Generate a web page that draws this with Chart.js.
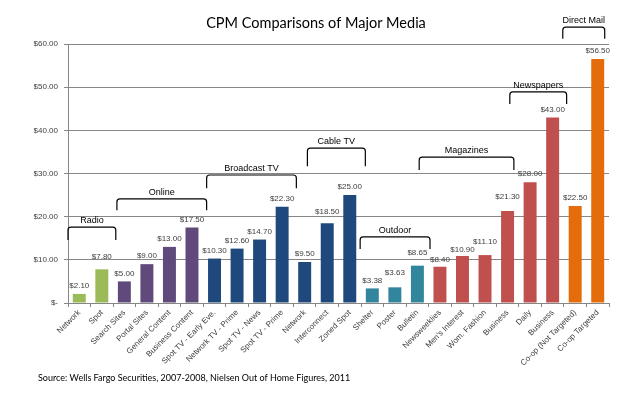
<!DOCTYPE html>
<html>
<head>
<meta charset="utf-8">
<script src="https://cdn.jsdelivr.net/npm/chart.js@4.4.1/dist/chart.umd.min.js"></script>
<style>
  html, body { margin: 0; padding: 0; background: #fff; }
  #wrap { width: 638px; height: 395px; }
</style>
</head>
<body>
<div id="wrap"><canvas id="chartCanvas" width="638" height="395"></canvas></div>
<script>
// chart data
const categories = ['Network', 'Spot', 'Search Sites', 'Portal Sites', 'General Content', 'Business Content',
    'Spot TV - Early Eve.', 'Network TV - Prime', 'Spot TV - News', 'Spot TV - Prime', 'Network', 'Interconnect',
    'Zoned Spot', 'Shelter', 'Poster', 'Bulletin', 'Newsweeklies', "Men's Interest", 'Wom. Fashion', 'Business',
    'Daily', 'Business', 'Co-op (Not Targeted)', 'Co-op Targeted'];
const cpmValues = [2.10, 7.80, 5.00, 9.00, 13.00, 17.50, 10.30, 12.60, 14.70, 22.30, 9.50, 18.50,
    25.00, 3.38, 3.63, 8.65, 8.40, 10.90, 11.10, 21.30, 28.00, 43.00, 22.50, 56.50];
const mediaGroup = ['Radio', 'Radio', 'Online', 'Online', 'Online', 'Online',
    'Broadcast TV', 'Broadcast TV', 'Broadcast TV', 'Broadcast TV', 'Cable TV', 'Cable TV',
    'Cable TV', 'Outdoor', 'Outdoor', 'Outdoor', 'Magazines', 'Magazines', 'Magazines', 'Magazines',
    'Newspapers', 'Newspapers', 'Direct Mail', 'Direct Mail'];
const yTicks = [0, 10, 20, 30, 40, 50, 60];

const groupColors = {
    'Radio': '#9BBB59',
    'Online': '#604A7B',
    'Broadcast TV': '#1F497D',
    'Cable TV': '#1F497D',
    'Outdoor': '#31859C',
    'Magazines': '#C0504D',
    'Newspapers': '#C0504D',
    'Direct Mail': '#E46C0A'
};

// bracket annotations: category index span and height in $
const brackets = [
    { label: 'Radio',        from: -0.5,  to: 1.62,  top: 17.6, bottom: 14.6 },
    { label: 'Online',       from: 1.67,  to: 5.65,  top: 24.1, bottom: 21.5 },
    { label: 'Broadcast TV', from: 5.65,  to: 9.63,  top: 29.65, bottom: 26.6 },
    { label: 'Cable TV',     from: 10.12, to: 12.69, top: 35.9, bottom: 31.7 },
    { label: 'Outdoor',      from: 12.46, to: 15.56, top: 15.3, bottom: 12.5 },
    { label: 'Magazines',    from: 15.08, to: 19.28, top: 33.8, bottom: 30.8 },
    { label: 'Newspapers',   from: 19.10, to: 21.62, top: 48.9, bottom: 46.1 },
    { label: 'Direct Mail',  from: 21.45, to: 23.31, top: 63.9, bottom: 61.2 }
];

// small manual lifts of value labels (px), as in the original slide
const labelLift = { 1: 5, 11: 3, 14: 7, 15: 5, 16: -1, 17: -2, 18: 5, 19: 6 };

const money = v => '$' + v.toFixed(2);

const extrasPlugin = {
    id: 'extras',
    afterDatasetsDraw(chart) {
        const ctx = chart.ctx;
        const x = chart.scales.x;
        const y = chart.scales.y;
        const meta = chart.getDatasetMeta(0);

        // value labels
        ctx.save();
        ctx.font = '8px "Liberation Sans", Arial, sans-serif';
        ctx.fillStyle = '#404040';
        ctx.textAlign = 'center';
        ctx.textBaseline = 'middle';
        meta.data.forEach((bar, i) => {
            ctx.fillText(money(cpmValues[i]), bar.x, bar.y - 8 - (labelLift[i] || 0));
        });

        // brackets
        const step = x.getPixelForValue(1) - x.getPixelForValue(0);
        const px = v => x.getPixelForValue(0) + v * step;
        ctx.strokeStyle = '#000';
        ctx.lineWidth = 1.2;
        ctx.font = '9px "Liberation Sans", Arial, sans-serif';
        ctx.fillStyle = '#000';
        ctx.textBaseline = 'bottom';
        brackets.forEach(b => {
            const x1 = px(b.from), x2 = px(b.to);
            const yt = y.getPixelForValue(b.top), yb = y.getPixelForValue(b.bottom);
            const r = 3;
            ctx.beginPath();
            ctx.moveTo(x1, yb);
            ctx.lineTo(x1, yt + r);
            ctx.arcTo(x1, yt, x1 + r, yt, r);
            ctx.lineTo(x2 - r, yt);
            ctx.arcTo(x2, yt, x2, yt + r, r);
            ctx.lineTo(x2, yb);
            ctx.stroke();
            ctx.fillText(b.label, (x1 + x2) / 2, yt - 2);
        });

        // title and source
        ctx.font = '14.5px Lato, "Open Sans", sans-serif';
        ctx.fillStyle = '#000';
        ctx.textBaseline = 'middle';
        ctx.fillText('CPM Comparisons of Major Media', 316, 23);
        ctx.font = '9px Lato, "Open Sans", sans-serif';
        ctx.textAlign = 'left';
        ctx.fillText('Source: Wells Fargo Securities, 2007-2008, Nielsen Out of Home Figures, 2011', 38, 378);
        ctx.restore();
    }
};

new Chart(document.getElementById('chartCanvas').getContext('2d'), {
    type: 'bar',
    data: {
        labels: categories,
        datasets: [{
            data: cpmValues,
            backgroundColor: mediaGroup.map(g => groupColors[g]),
            barPercentage: 0.575,
            categoryPercentage: 1.0
        }]
    },
    options: {
        responsive: false,
        animation: false,
        layout: { padding: { top: 44, right: 29, bottom: 22, left: 0 } },
        plugins: {
            legend: { display: false },
            title: { display: false },
            tooltip: { enabled: false }
        },
        scales: {
            x: {
                grid: { display: true, drawOnChartArea: false, tickLength: 4, color: '#868686' },
                border: { color: '#868686' },
                ticks: {
                    autoSkip: false,
                    minRotation: 45,
                    maxRotation: 45,
                    padding: 1,
                    color: '#404040',
                    font: { family: '"Liberation Sans", Arial, sans-serif', size: 8 }
                },
                afterFit(scale) { scale.height = 70; }
            },
            y: {
                min: 0,
                max: 60,
                afterBuildTicks(scale) { scale.ticks = yTicks.map(v => ({ value: v })); },
                grid: { color: '#868686', tickLength: 4 },
                border: { color: '#868686' },
                ticks: {
                    padding: 6,
                    color: '#404040',
                    font: { family: '"Liberation Sans", Arial, sans-serif', size: 8 },
                    callback: v => v === 0 ? '$-' : money(v)
                },
                afterFit(scale) { scale.width = 68; }
            }
        }
    },
    plugins: [extrasPlugin]
});
</script>
</body>
</html>
